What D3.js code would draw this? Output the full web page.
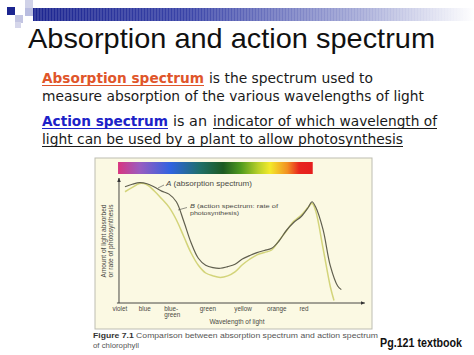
<!DOCTYPE html>
<html>
<head>
<meta charset="utf-8">
<script src="https://cdn.jsdelivr.net/npm/d3@7"></script>
<style>
  html, body { margin: 0; padding: 0; background: #ffffff; }
  svg { display: block; }
</style>
</head>
<body>
<svg id="chart" width="474" height="355"></svg>
<script>
// ---------- DATA ----------
const title = "Absorption and action spectrum";
const wavelengthsA = [400,410,420,430,440,450,460,470,480,490,500,510,520,530,540,550,560,570,580,590,600,610,620,630,640,650,655,660,670,680,690,695];
const absorptionA  = [93,95,96.3,95.4,92.8,89.5,87.1,81,65.6,48.4,35.8,30.2,28.3,27.8,29.1,31,35.2,37.9,40.3,42,43.8,49.6,58,64.4,69,76.6,81,76.8,58.9,29.7,13.6,10.7];
const wavelengthsB = [400,410,420,430,440,450,460,470,480,490,500,510,520,530,540,550,560,570,580,590,600,610,620,630,640,650,655,660,670,680,685];
const actionB      = [89,92.5,95.6,94.6,89.6,83.4,76.7,66.6,53.4,40.2,30.2,24,21.7,20.5,21.7,24.9,30.6,35,38.5,40.4,42.4,49.9,57.6,65.3,70.2,76.7,79.8,73.7,44,13,2];
const categories      = ["violet","blue","blue-|green","green","yellow","orange","red"];
const categoryNm      = [393,427,461,513,561,607,644];
const spectrumStops   = [0,0.11,0.27,0.42,0.54,0.63,0.72,0.78,0.87,0.93,1];
const spectrumColours = ["#d9357f","#9a5cc0","#2f63e0","#1f6f6a","#1d5a22","#4f9a1e","#b8d02a","#f3ea2a","#f29022","#e8261e","#e51e1e"];
const spectrumRangeNm = [390.5, 656];
const labelA = ["A", " (absorption spectrum)"];
const labelB = ["B", " (action spectrum: rate of", "photosynthesis)"];
const yLabel = ["Amount of light absorbed", "or rate of photosynthesis"];
const xLabel = "Wavelength of light";
const captionBold = "Figure 7.1";
const captionRest = "Comparison between absorption spectrum and action spectrum";
const captionLine2 = "of chlorophyll";
const pageRef = "Pg.121 textbook";

// ---------- SETUP ----------
const svg = d3.select("#chart");
const defs = svg.append("defs");
const W = 474;

function fitText(sel, width) {
  sel.attr("textLength", width).attr("lengthAdjust", "spacingAndGlyphs");
  return sel;
}

// ---------- TOP DECORATION ----------
const g1 = defs.append("linearGradient").attr("id","barGrad").attr("x1","0").attr("x2","1").attr("y1","0").attr("y2","0");
g1.append("stop").attr("offset","0").attr("stop-color","#1c2590");
g1.append("stop").attr("offset","0.35").attr("stop-color","#3a44a8");
g1.append("stop").attr("offset","0.75").attr("stop-color","#a7acd8");
g1.append("stop").attr("offset","1").attr("stop-color","#ffffff");
svg.append("rect").attr("x",33).attr("y",8).attr("width",W-33).attr("height",13).attr("fill","url(#barGrad)");
const stripes = d3.range(35, W, 3);
svg.append("g").selectAll("line").data(stripes).join("line")
  .attr("x1", d => d).attr("x2", d => d).attr("y1", 8).attr("y2", 21)
  .attr("stroke", "#ffffff").attr("stroke-opacity", 0.25).attr("stroke-width", 1);
const squares = [
  {x:7,y:7,s:8,c:"#1c2590"},
  {x:15,y:15,s:8,c:"#c3c5e2"},
  {x:15,y:22,s:6,c:"#d5d6ea"},
  {x:25,y:0,s:8,c:"#d0d2e8"},
  {x:25,y:8,s:8,c:"#b9bde0"}
];
svg.append("g").selectAll("rect").data(squares).join("rect")
  .attr("x", d => d.x).attr("y", d => d.y).attr("width", d => d.s).attr("height", d => d.s).attr("fill", d => d.c);

// ---------- TITLE ----------
fitText(svg.append("text").attr("x", 28).attr("y", 48)
  .attr("font-family", "'Liberation Sans', Arial, sans-serif").attr("font-size", 28).attr("fill", "#111")
  .text(title), 407);

// ---------- BODY TEXT ----------
const bodyFont = "'DejaVu Sans', Verdana, sans-serif";
function bodyText(x, y, str, w, opts = {}) {
  const t = svg.append("text").attr("x", x).attr("y", y)
    .attr("font-family", bodyFont).attr("font-size", 14)
    .attr("font-weight", opts.bold ? "bold" : "normal")
    .attr("fill", opts.color || "#1a1a1a").text(str);
  fitText(t, w);
  if (opts.underline) {
    svg.append("line").attr("x1", x).attr("x2", x + w).attr("y1", y + 2.5).attr("y2", y + 2.5)
      .attr("stroke", opts.color || "#1a1a1a").attr("stroke-width", 1);
  }
}
bodyText(42, 83, "Absorption spectrum", 162, {bold:true, color:"#e0552a", underline:true});
bodyText(209, 83, "is the spectrum used to", 164);
bodyText(42, 101, "measure absorption of the various wavelengths of light", 382);
bodyText(42, 126, "Action spectrum", 126, {bold:true, color:"#1c22c8", underline:true});
bodyText(173, 126, "is an", 34);
bodyText(213, 126, "indicator of which wavelength of", 224, {underline:true});
bodyText(42, 144, "light can be used by a plant to allow photosynthesis", 361, {underline:true});

// ---------- FIGURE ----------
const x = d3.scaleLinear().domain([400, 700]).range([125, 345]);
const y = d3.scaleLinear().domain([0, 100]).range([303, 178]);

// figure frame
svg.append("rect").attr("x", 95).attr("y", 158).attr("width", 277).attr("height", 171)
  .attr("fill", "#fbf9e3").attr("stroke", "#bdbdb2").attr("stroke-width", 1);

// spectrum bar
const sg = defs.append("linearGradient").attr("id","specGrad").attr("x1","0").attr("x2","1").attr("y1","0").attr("y2","0");
spectrumStops.forEach((o, i) => sg.append("stop").attr("offset", o).attr("stop-color", spectrumColours[i]));
svg.append("rect").attr("x", x(spectrumRangeNm[0])).attr("y", 162)
  .attr("width", x(spectrumRangeNm[1]) - x(spectrumRangeNm[0])).attr("height", 12)
  .attr("fill", "url(#specGrad)");

// arrow marker
defs.append("marker").attr("id","arrow").attr("viewBox","0 0 10 10").attr("refX",9).attr("refY",5)
  .attr("markerWidth",5).attr("markerHeight",5).attr("orient","auto-start-reverse")
  .append("path").attr("d","M0,1 L10,5 L0,9 z").attr("fill","#333");

// axes
svg.append("line").attr("x1", x(391.8)).attr("x2", x(391.8)).attr("y1", y(0)).attr("y2", y(100))
  .attr("stroke", "#333").attr("stroke-width", 0.9).attr("marker-end", "url(#arrow)");
svg.append("line").attr("x1", x(389)).attr("x2", x(727)).attr("y1", y(0)).attr("y2", y(0))
  .attr("stroke", "#333").attr("stroke-width", 0.9).attr("marker-end", "url(#arrow)");

// curves
const lineGen = d3.line().curve(d3.curveCatmullRom.alpha(0.5));
const ptsB = wavelengthsB.map((w, i) => [x(w), y(actionB[i])]);
const ptsA = wavelengthsA.map((w, i) => [x(w), y(absorptionA[i])]);
svg.append("path").attr("d", lineGen(ptsB)).attr("fill", "none")
  .attr("stroke", "#d3d47a").attr("stroke-width", 1.5);
svg.append("path").attr("d", lineGen(ptsA)).attr("fill", "none")
  .attr("stroke", "#605f4e").attr("stroke-width", 1.2);

const figFont = "'Liberation Sans', Arial, sans-serif";
const figCol = "#4a4a44";

// curve labels
svg.append("line").attr("x1", 158).attr("y1", 188).attr("x2", 164).attr("y2", 185).attr("stroke", figCol).attr("stroke-width", 0.6);
const tA = svg.append("text").attr("x", 166).attr("y", 186).attr("font-family", figFont).attr("font-size", 6.5).attr("fill", figCol);
tA.append("tspan").attr("font-style", "italic").text(labelA[0]);
tA.append("tspan").text(labelA[1]);
fitText(tA, 86);
svg.append("line").attr("x1", 178).attr("y1", 210).attr("x2", 187).attr("y2", 207.5).attr("stroke", figCol).attr("stroke-width", 0.6);
const tB = svg.append("text").attr("x", 190).attr("y", 208).attr("font-family", figFont).attr("font-size", 6.2).attr("fill", figCol);
tB.append("tspan").attr("font-style", "italic").text(labelB[0]);
tB.append("tspan").text(labelB[1]);
fitText(tB, 88);
fitText(svg.append("text").attr("x", 190).attr("y", 215).attr("font-family", figFont).attr("font-size", 6.2).attr("fill", figCol).text(labelB[2]), 49);

// y label
const yl = svg.append("g").attr("transform", "translate(106,241) rotate(-90)");
yLabel.forEach((s, i) => {
  fitText(yl.append("text").attr("x", 0).attr("y", i * 7).attr("text-anchor", "middle")
    .attr("font-family", figFont).attr("font-size", 6.5).attr("fill", figCol).text(s), 73);
});

// category labels
const catG = svg.append("g");
categories.forEach((c, i) => {
  const parts = c.split("|");
  const isMulti = parts.length > 1;
  parts.forEach((p, j) => {
    catG.append("text")
      .attr("x", isMulti ? x(categoryNm[i]) - 5.5 : x(categoryNm[i]))
      .attr("y", 311 + j * 5.5)
      .attr("text-anchor", isMulti ? "start" : "middle")
      .attr("font-family", figFont).attr("font-size", 6.3).attr("fill", figCol).text(p);
  });
});
svg.append("text").attr("x", 237).attr("y", 324).attr("text-anchor", "middle")
  .attr("font-family", figFont).attr("font-size", 6.5).attr("fill", figCol).text(xLabel);

// caption
const cap = svg.append("text").attr("x", 93).attr("y", 338).attr("font-family", figFont).attr("font-size", 7.8).attr("fill", "#555");
cap.append("tspan").attr("font-weight", "bold").attr("fill", "#333").text(captionBold);
cap.append("tspan").text("  " + captionRest);
fitText(cap, 285);
svg.append("text").attr("x", 93).attr("y", 348).attr("font-family", figFont).attr("font-size", 7.8).attr("fill", "#555").text(captionLine2);

// page ref
fitText(svg.append("text").attr("x", 380).attr("y", 347).attr("font-family", figFont).attr("font-size", 12)
  .attr("font-weight", "bold").attr("fill", "#111").text(pageRef), 82);
</script>
</body>
</html>
